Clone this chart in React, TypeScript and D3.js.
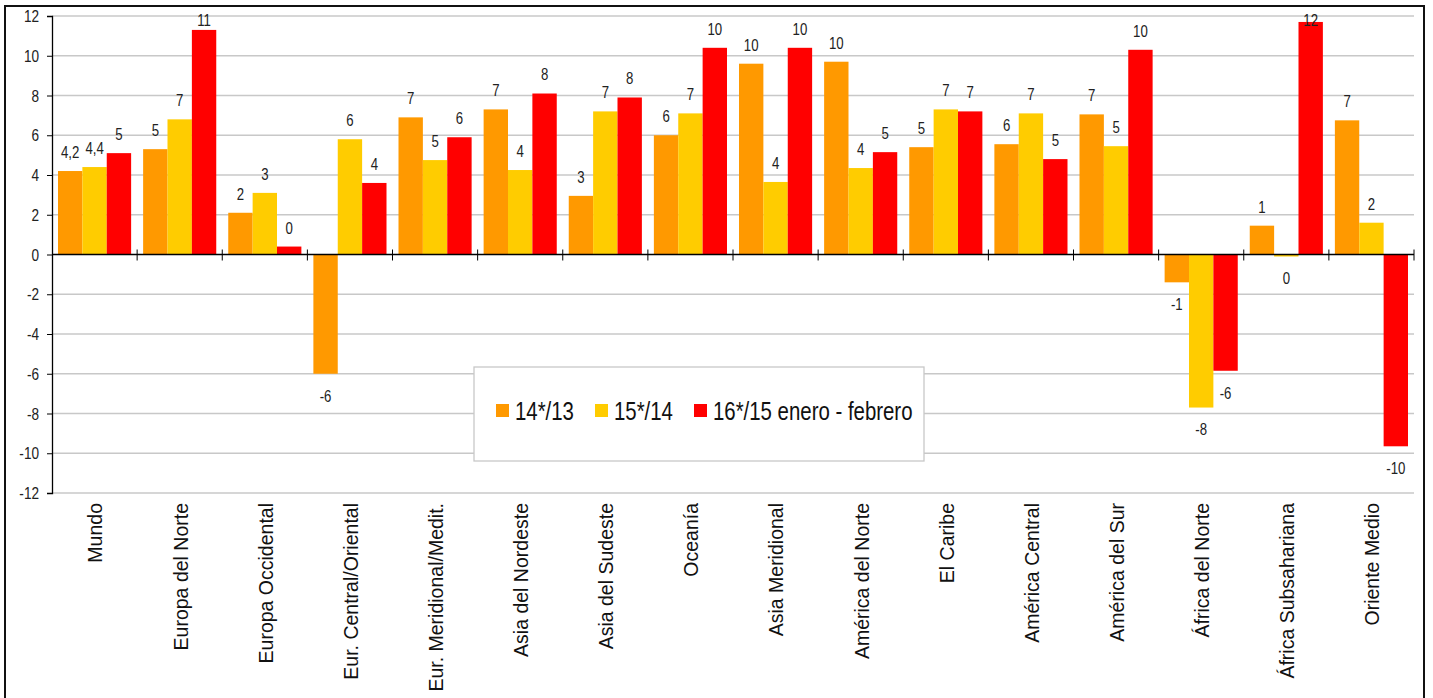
import { useRef, useEffect } from "react";
import * as d3 from "d3";

const W = 1433;
const H = 698;
const LEFT = 52;
const RIGHT = 1414;
const TOP = 16;
const BOTTOM = 493;

const CATEGORIES = [
  "Mundo",
  "Europa del Norte",
  "Europa Occidental",
  "Eur. Central/Oriental",
  "Eur. Meridional/Medit.",
  "Asia del Nordeste",
  "Asia del Sudeste",
  "Oceanía",
  "Asia Meridional",
  "América del Norte",
  "El Caribe",
  "América Central",
  "América del Sur",
  "África del Norte",
  "África Subsahariana",
  "Oriente Medio",
];

const SERIES = ["14*/13", "15*/14", "16*/15 enero - febrero"];
const COLORS = ["#FF9900", "#FFCC00", "#FF0000"];

const S14 = [4.2, 5.3, 2.1, -6.0, 6.9, 7.3, 2.95, 6.0, 9.6, 9.7, 5.4, 5.55, 7.05, -1.4, 1.45, 6.75];
const S15 = [4.4, 6.8, 3.1, 5.8, 4.75, 4.25, 7.2, 7.1, 3.65, 4.35, 7.3, 7.1, 5.45, -7.7, -0.1, 1.6];
const S16 = [5.1, 11.3, 0.4, 3.6, 5.9, 8.1, 7.9, 10.4, 10.4, 5.15, 7.2, 4.8, 10.3, -5.85, 11.7, -9.65];

// Mundo shows one decimal, the rest are rounded
const LABELS_MUNDO = ["4,2", "4,4", "5"];

const Y_TICKS = [-12, -10, -8, -6, -4, -2, 0, 2, 4, 6, 8, 10, 12];

const FONT = "'Liberation Sans', Arial, sans-serif";
const NARROW = 0.8; // horizontal squeeze to imitate Arial Narrow

export default function App() {
  const svgRef = useRef<SVGSVGElement>(null);

  useEffect(() => {
    const svg = d3.select(svgRef.current);
    svg.selectAll("*").remove();

    const values = [S14, S15, S16];

    const x = d3.scaleBand<string>().domain(CATEGORIES).range([LEFT, RIGHT]).padding(0);
    const xs = d3.scaleBand<number>().domain([0, 1, 2]).range([6, x.bandwidth() - 6]).padding(0);
    const y = d3.scaleLinear().domain([-12, 12]).range([BOTTOM, TOP]);

    // frame
    svg.append("rect")
      .attr("x", 5).attr("y", 6).attr("width", 1419).attr("height", 720)
      .attr("fill", "white").attr("stroke", "#111").attr("stroke-width", 2);

    // grid
    svg.append("g")
      .selectAll("line")
      .data(Y_TICKS.filter(d => d !== 0))
      .join("line")
      .attr("x1", LEFT).attr("x2", RIGHT)
      .attr("y1", d => y(d)).attr("y2", d => y(d))
      .attr("stroke", "#c8c8c8").attr("stroke-width", 1.3);

    // y axis
    const gy = svg.append("g")
      .attr("transform", `translate(${LEFT},0)`)
      .call(d3.axisLeft(y).tickValues(Y_TICKS).tickSize(5).tickFormat(() => ""));
    gy.select(".domain").attr("stroke", "#000").attr("stroke-width", 1.3);
    gy.selectAll(".tick line").attr("stroke", "#000");
    gy.selectAll(".tick text").remove();
    svg.append("g")
      .selectAll("g")
      .data(Y_TICKS)
      .join("g")
      .attr("transform", d => `translate(${LEFT - 13},${y(d)}) scale(${NARROW},1)`)
      .append("text")
      .attr("dy", "0.36em")
      .attr("text-anchor", "end")
      .attr("font-family", FONT).attr("font-size", 17).attr("fill", "#222")
      .text(d => String(d));

    // bars
    const groups = svg.append("g")
      .selectAll("g")
      .data(CATEGORIES)
      .join("g")
      .attr("transform", d => `translate(${x(d)},0)`);

    groups.selectAll("rect")
      .data((_d, i) => values.map((s, k) => ({ v: s[i], k })))
      .join("rect")
      .attr("x", d => xs(d.k)!)
      .attr("width", xs.bandwidth())
      .attr("y", d => y(Math.max(0, d.v)))
      .attr("height", d => Math.abs(y(d.v) - y(0)))
      .attr("fill", d => COLORS[d.k]);

    groups.selectAll("g.lbl")
      .data((_d, i) => values.map((s, k) => ({ v: s[i], k, i })))
      .join("g")
      .attr("class", "lbl")
      .attr("transform", d => {
        const lx = xs(d.k)! + xs.bandwidth() / 2;
        const ly = d.v >= 0 ? Math.max(y(d.v) - 19, 20) : y(d.v) + 22;
        return `translate(${lx},${ly}) scale(${NARROW},1)`;
      })
      .append("text")
      .attr("dy", "0.36em")
      .attr("text-anchor", "middle")
      .attr("font-family", FONT).attr("font-size", 16.5).attr("fill", "#222")
      .text(d => d.i === 0 ? LABELS_MUNDO[d.k] : String(Math.round(d.v) === 0 ? 0 : Math.round(d.v)));

    // zero axis with category ticks
    svg.append("line")
      .attr("x1", LEFT).attr("x2", RIGHT)
      .attr("y1", y(0)).attr("y2", y(0))
      .attr("stroke", "#000").attr("stroke-width", 1.3);
    svg.append("g")
      .selectAll("line")
      .data(CATEGORIES.slice(1).map(c => x(c)!).concat([RIGHT]))
      .join("line")
      .attr("x1", d => d).attr("x2", d => d)
      .attr("y1", y(0) - 5).attr("y2", y(0) + 6)
      .attr("stroke", "#000").attr("stroke-width", 1);

    // category labels
    svg.append("g")
      .selectAll("text")
      .data(CATEGORIES)
      .join("text")
      .attr("transform", d => `translate(${x(d)! + x.bandwidth() / 2 + 1},${BOTTOM + 10}) rotate(-90)`)
      .attr("dy", "0.35em")
      .attr("text-anchor", "end")
      .attr("font-family", FONT).attr("font-size", 19.5).attr("fill", "#111")
      .text(d => d);

    // legend
    const lg = svg.append("g").attr("transform", "translate(474,367)");
    lg.append("rect")
      .attr("width", 450).attr("height", 94)
      .attr("fill", "white").attr("stroke", "#c8c8c8").attr("stroke-width", 1.3);
    const legendX = [22, 121, 220];
    const items = lg.selectAll("g.item")
      .data(SERIES)
      .join("g")
      .attr("class", "item")
      .attr("transform", (_d, i) => `translate(${legendX[i]},37)`);
    items.append("rect")
      .attr("width", 13).attr("height", 13)
      .attr("fill", (_d, i) => COLORS[i]);
    items.append("g")
      .attr("transform", `translate(19,7) scale(${NARROW},1)`)
      .append("text")
      .attr("dy", "0.36em")
      .attr("font-family", FONT).attr("font-size", 25.5).attr("fill", "#111")
      .text(d => d);
  }, []);

  return (
    <svg
      ref={svgRef}
      width={W}
      height={H}
      style={{ position: "absolute", left: 0, top: 0, background: "white" }}
    />
  );
}
